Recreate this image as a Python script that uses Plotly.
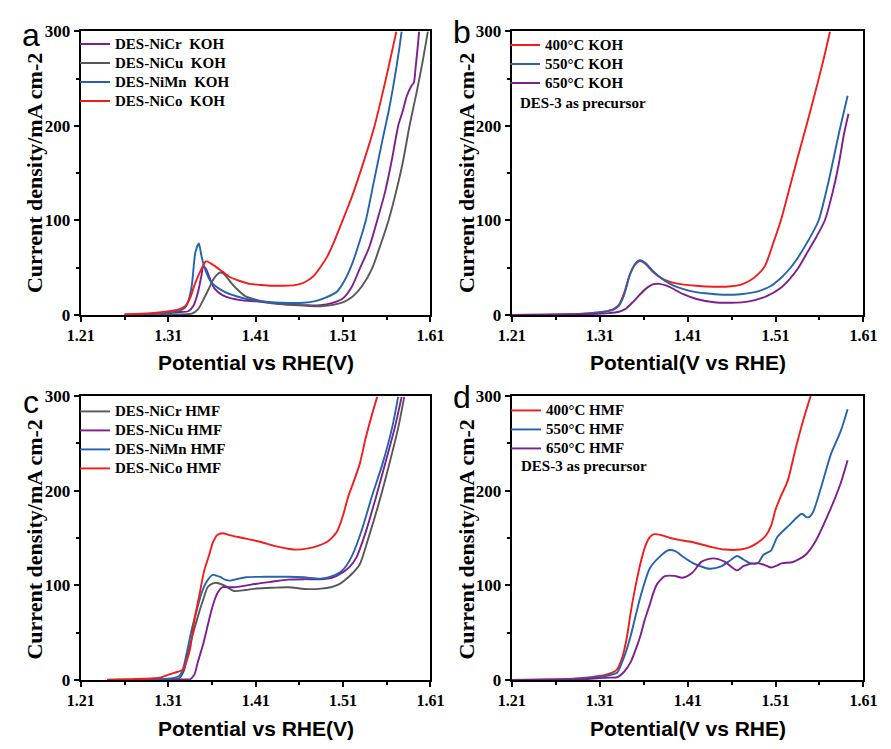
import plotly.graph_objects as go

# ---------------- data ----------------
# Panel a : KOH
a_cr_x = [1.26,1.30,1.32,1.333,1.339,1.344,1.348,1.350,1.353,1.357,1.363,1.372,1.381,1.395,1.411,1.43,1.447,1.465,1.484,1.497,1.510,1.520,1.529,1.540,1.549,1.558,1.566,1.573,1.578,1.583,1.588,1.591,1.593,1.595,1.597]
a_cr_y = [0.5,1.5,3,4,10,24,42,51,49,40,28,21,17.8,15.5,14.4,12.5,11,10.5,10.3,12.5,17.8,30,48.8,72,100,130,165,200,215,232,242,246,262,280,300]
a_cu_x = [1.30,1.32,1.330,1.337,1.344,1.351,1.356,1.361,1.365,1.369,1.373,1.377,1.382,1.388,1.398,1.411,1.428,1.447,1.465,1.484,1.500,1.511,1.521,1.532,1.543,1.552,1.562,1.570,1.578,1.586,1.594,1.601,1.607]
a_cu_y = [0.3,0.6,0.8,1.5,6,17.8,27,36.8,42,45,44,40,34,28,20,16,13,11,10,9.3,11,14,19.6,31,48.8,72,100,128,160,200,235,268,300]
a_mn_x = [1.27,1.30,1.315,1.324,1.329,1.333,1.337,1.341,1.345,1.348,1.352,1.359,1.374,1.396,1.42,1.447,1.465,1.477,1.490,1.503,1.512,1.521,1.529,1.536,1.545,1.555,1.562,1.567,1.571,1.574,1.577]
a_mn_y = [0.5,1.5,3,5,7.5,15,31.6,66,75.6,62.5,48.8,35,24.7,17.8,14,12.7,13,14.4,18.5,24.7,37,55.7,78,100,140,185,215,240,262,280,300]
a_co_x = [1.26,1.29,1.311,1.322,1.329,1.335,1.340,1.348,1.353,1.358,1.363,1.372,1.381,1.392,1.403,1.416,1.429,1.442,1.455,1.463,1.470,1.477,1.484,1.492,1.499,1.506,1.514,1.522,1.530,1.538,1.546,1.554,1.562,1.571]
a_co_y = [0.7,2,4,6,9,18,31.6,48.8,56.7,55,52,46,40,36,33,31.8,31,31,31.6,33.5,36.8,42,50.5,62,76,92,110.6,130,152,175,200,230,262,300]

# Panel b : KOH, calcination temperature
b_400_x = [1.21,1.25,1.28,1.30,1.315,1.325,1.332,1.338,1.344,1.350,1.356,1.362,1.370,1.380,1.390,1.400,1.42,1.44,1.46,1.47,1.48,1.49,1.498,1.507,1.516,1.525,1.535,1.545,1.555,1.564,1.572]
b_400_y = [0,0.3,1,2,3.5,6,11,24,42,53,57,54,46,39,35,33,31,30,30.5,32,36,43,52,75,100,131,166,200,235,268,300]
b_550_x = [1.21,1.25,1.28,1.30,1.315,1.325,1.332,1.338,1.344,1.350,1.356,1.362,1.370,1.380,1.390,1.400,1.415,1.43,1.45,1.47,1.49,1.505,1.517,1.527,1.537,1.548,1.559,1.570,1.583,1.592]
b_550_y = [0,0.3,1,2,3.5,5.5,10,22,42,54,58,55,47,39,33,29,25,23,21.5,22,25,31,40,50,63,80,100,140,196,232]
b_650_x = [1.21,1.27,1.30,1.32,1.332,1.340,1.348,1.356,1.364,1.371,1.378,1.386,1.395,1.405,1.42,1.44,1.46,1.48,1.50,1.515,1.526,1.536,1.546,1.556,1.566,1.575,1.582,1.588,1.593]
b_650_y = [0,0.3,1,2,3.5,7,14,22,29,32.7,33,31,27,22,17,13.5,13,14.5,20,28,38,50,66,82,100,130,160,192,213]

# Panel c : HMF
c_cr_x = [1.27,1.30,1.315,1.322,1.328,1.333,1.338,1.344,1.350,1.355,1.361,1.366,1.374,1.385,1.398,1.411,1.43,1.447,1.470,1.485,1.496,1.505,1.514,1.521,1.529,1.540,1.551,1.562,1.573,1.580]
c_cr_y = [0.3,0.6,1,1.5,10,30,48,67.5,85,98,102,102.5,100,94,95,96.6,97.5,98,96,96.5,98,101,107,113,122,153,187,225,266,299]
c_cu_x = [1.30,1.32,1.330,1.335,1.340,1.344,1.350,1.355,1.359,1.363,1.367,1.372,1.378,1.385,1.40,1.411,1.43,1.447,1.465,1.484,1.497,1.510,1.518,1.525,1.536,1.547,1.558,1.569,1.577]
c_cu_y = [0.3,0.5,0.6,0.8,6,19.5,38,57,72,84.5,93,98,98,98,100,101.7,104,106,106.5,106.5,108,114,120,129,156.5,191,228,266,299]
c_mn_x = [1.25,1.28,1.30,1.315,1.322,1.326,1.331,1.337,1.343,1.348,1.354,1.361,1.366,1.370,1.375,1.381,1.390,1.399,1.42,1.447,1.465,1.484,1.495,1.507,1.514,1.521,1.532,1.543,1.555,1.566,1.573]
c_mn_y = [0.3,0.6,1,2,4,9,28,54,75,91.5,104,111,110,108.6,106,105,107,108.6,109,109,108.5,107,109,114,121,132.6,160,194,228,266,299]
c_co_x = [1.24,1.27,1.29,1.300,1.311,1.320,1.327,1.331,1.335,1.340,1.346,1.351,1.357,1.361,1.366,1.372,1.38,1.39,1.40,1.415,1.43,1.445,1.455,1.47,1.482,1.492,1.498,1.503,1.510,1.516,1.521,1.529,1.536,1.543,1.549]
c_co_y = [0.3,1,1.6,2.4,5.9,8.5,11,20,33,64,91.5,115,132.6,145,153,155,153,151,149,146,142,139,137.7,139,142,146,151,156.5,174,194,206.6,228,256,280,299]

# Panel d : HMF, calcination temperature
d_400_x = [1.21,1.25,1.28,1.30,1.315,1.325,1.330,1.336,1.341,1.345,1.349,1.356,1.362,1.367,1.372,1.380,1.390,1.400,1.415,1.437,1.452,1.470,1.480,1.488,1.494,1.499,1.505,1.510,1.516,1.522,1.525,1.533,1.542,1.550]
d_400_y = [0,0.5,1.5,3,5,8,11.7,25,46,70,91,122,142,151,154,153,150,148,145.7,140.5,137.8,137.8,140,144,148,152.6,163,180,194,206,214,245,276,300]
d_550_x = [1.21,1.25,1.28,1.30,1.315,1.325,1.330,1.338,1.345,1.356,1.367,1.378,1.388,1.396,1.405,1.415,1.425,1.435,1.448,1.458,1.466,1.474,1.481,1.490,1.496,1.505,1.512,1.525,1.540,1.545,1.548,1.553,1.562,1.573,1.584,1.592]
d_550_y = [0,0.4,1.2,2.5,4,6,8,25,46,87,118,130,137,136,130,124,120,117.5,120,126,131,127,123.4,123.4,132,137,151,163,175.6,172,172,178,204,238.5,262.5,286]
d_650_x = [1.21,1.26,1.29,1.31,1.322,1.330,1.338,1.345,1.350,1.356,1.361,1.367,1.371,1.375,1.384,1.395,1.404,1.415,1.426,1.439,1.452,1.466,1.474,1.488,1.496,1.505,1.518,1.529,1.544,1.555,1.569,1.584,1.592]
d_650_y = [0,0.4,1,2,2.5,3,9,18.6,30,46,63,80,92,101,109.6,110,108,113,125,128.5,125,115.8,120.6,123.4,122,118.9,123.4,124.4,132,145.7,173,207.5,232]

# tick labels
x_ticks = [1.21, 1.31, 1.41, 1.51, 1.61]
x_ticktext = ["1.21", "1.31", "1.41", "1.51", "1.61"]
y_ticks = [0, 100, 200, 300]
y_ticktext = ["0", "100", "200", "300"]

# ---------------- styles ----------------
RED = "#F21C1C"
BLUE = "#2464AE"
PURPLE = "#7E1F8E"
GRAY = "#585858"
SERIF = "Liberation Serif, Times New Roman, serif"
SANS = "Liberation Sans, Arial, sans-serif"
NB = "\u00a0"

W, H = 891, 749

def px_x(p):
    return p / W

def px_y(p):
    return 1 - p / H

def big(t):
    return '<span style="font-size:15px">' + t + '</span>'

panels = [
    ("x", "y", (69, 430), (23, 314)),
    ("x2", "y2", (514, 877), (23, 314)),
    ("x3", "y3", (69, 430), (397, 688.5)),
    ("x4", "y4", (514, 877), (397, 688.5)),
]

series = [
    (0, "DES-NiCr" + NB + " KOH", a_cr_x, a_cr_y, PURPLE, "legend"),
    (0, "DES-NiCu" + NB + " KOH", a_cu_x, a_cu_y, GRAY, "legend"),
    (0, "DES-NiMn" + NB + " KOH", a_mn_x, a_mn_y, BLUE, "legend"),
    (0, "DES-NiCo" + NB + " KOH", a_co_x, a_co_y, RED, "legend"),
    (1, "400°C KOH", b_400_x, b_400_y, RED, "legend2"),
    (1, "550°C KOH", b_550_x, b_550_y, BLUE, "legend2"),
    (1, "650°C KOH", b_650_x, b_650_y, PURPLE, "legend2"),
    (2, "DES-NiCr HMF", c_cr_x, c_cr_y, GRAY, "legend3"),
    (2, "DES-NiCu HMF", c_cu_x, c_cu_y, PURPLE, "legend3"),
    (2, "DES-NiMn HMF", c_mn_x, c_mn_y, BLUE, "legend3"),
    (2, "DES-NiCo HMF", c_co_x, c_co_y, RED, "legend3"),
    (3, "400°C HMF", d_400_x, d_400_y, RED, "legend4"),
    (3, "550°C HMF", d_550_x, d_550_y, BLUE, "legend4"),
    (3, "650°C HMF", d_650_x, d_650_y, PURPLE, "legend4"),
]

fig = go.Figure()
for pi, name, xs, ys, col, leg in series:
    xa, ya = panels[pi][0], panels[pi][1]
    fig.add_trace(go.Scatter(
        x=xs, y=ys, mode="lines", name=big(name),
        line=dict(color=col, width=1.9, shape="spline", smoothing=0.7),
        xaxis=xa, yaxis=ya, legend=leg,
    ))

layout = dict(
    width=W, height=H,
    margin=dict(l=0, r=0, t=0, b=0),
    paper_bgcolor="white", plot_bgcolor="white",
    font=dict(family=SERIF, color="black", size=15),
    showlegend=True,
)

xtickfont = dict(family=SERIF, size=16, color="black", weight="bold")
ytickfont = dict(family=SERIF, size=17, color="black", weight="bold")
for i, (xa, ya, xd, yd) in enumerate(panels):
    xkey = "xaxis" if xa == "x" else "xaxis" + xa[1:]
    ykey = "yaxis" if ya == "y" else "yaxis" + ya[1:]
    layout[xkey] = dict(
        domain=[px_x(xd[0]), px_x(xd[1])], anchor=ya,
        range=[1.21, 1.61], tickmode="array", tickvals=x_ticks, ticktext=x_ticktext,
        showline=True, linecolor="black", linewidth=2.2, mirror=True,
        ticks="outside", ticklen=5, tickwidth=2, tickcolor="black",
        minor=dict(ticks="outside", ticklen=3, tickwidth=1.5, tickcolor="black", dtick=0.05, tick0=1.21),
        showgrid=False, zeroline=False, tickfont=xtickfont,
    )
    layout[ykey] = dict(
        domain=[px_y(yd[1]), px_y(yd[0])], anchor=xa,
        range=[0, 300], tickmode="array", tickvals=y_ticks, ticktext=y_ticktext,
        showline=True, linecolor="black", linewidth=2.2, mirror=True,
        ticks="outside", ticklen=5, tickwidth=2, tickcolor="black",
        minor=dict(ticks="outside", ticklen=3, tickwidth=1.5, tickcolor="black", dtick=50, tick0=0),
        showgrid=False, zeroline=False, tickfont=ytickfont,
    )

leg_common = dict(
    bgcolor="rgba(0,0,0,0)", borderwidth=0,
    font=dict(family=SERIF, size=12, color="black", weight="bold"),
    xanchor="left", yanchor="top", tracegroupgap=0, itemwidth=30,
)
layout["legend"] = dict(leg_common, x=px_x(63), y=px_y(21))
layout["legend2"] = dict(leg_common, x=px_x(507), y=px_y(22))
layout["legend3"] = dict(leg_common, x=px_x(63), y=px_y(398))
layout["legend4"] = dict(leg_common, x=px_x(508), y=px_y(397))

fig.update_layout(**layout)

ann = []
xt_font = dict(family=SANS, size=21, color="black", weight="bold")
yt_font = dict(family=SERIF, size=22, color="black", weight="bold")
for (xc, yc, txt) in [(249.5, 363, "Potential vs RHE(V)"), (695.5, 363, "Potential(V vs RHE)"),
                      (249.5, 738, "Potential vs RHE(V)"), (695.5, 738, "Potential(V vs RHE)")]:
    ann.append(dict(x=px_x(xc), y=px_y(yc), xref="paper", yref="paper", text=txt,
                    showarrow=False, xanchor="center", yanchor="middle", font=xt_font))
for (xc, yc) in [(21, 168), (467, 168), (21, 544), (467, 544)]:
    ann.append(dict(x=px_x(xc), y=px_y(yc), xref="paper", yref="paper", text="Current density/mA cm-2",
                    textangle=-90, showarrow=False, xanchor="center", yanchor="middle", font=yt_font))
for (xc, yc, txt) in [(18, 27, "a"), (463, 24, "b"), (18, 403, "c"), (463, 398, "d")]:
    ann.append(dict(x=px_x(xc), y=px_y(yc), xref="paper", yref="paper", text=txt,
                    showarrow=False, xanchor="center", yanchor="middle",
                    font=dict(family=SANS, size=32, color="black")))
for (xl, yc) in [(520, 96), (521, 469)]:
    ann.append(dict(x=px_x(xl), y=px_y(yc), xref="paper", yref="paper", text="DES-3 as precursor",
                    showarrow=False, xanchor="left", yanchor="middle",
                    font=dict(family=SERIF, size=15, color="black", weight="bold")))
fig.update_layout(annotations=ann)

fig.write_html("out.html")
